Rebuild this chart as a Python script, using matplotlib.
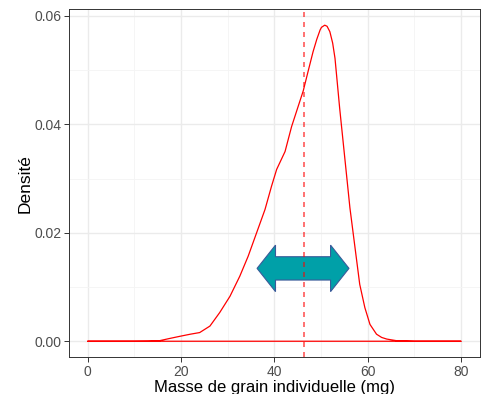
import numpy as np
import matplotlib
matplotlib.use('Agg')
import matplotlib.pyplot as plt
from matplotlib.patches import Polygon

plt.rcParams['font.family'] = ['Liberation Sans', 'DejaVu Sans']

# Density curve (x in mg, y density)
mass = [0, 5, 10, 13, 15.4, 17.5, 19.7, 22, 24.0, 26.2, 28.3, 30.5, 32.6, 34.4,
        36.2, 38.0, 39.4, 40.5, 42.3, 43.7, 45.1, 46.2, 47.3, 48.3, 49.1, 49.8,
        50.1, 50.8, 51.3, 51.9, 52.5, 53.0, 54.0, 55.1, 56.2, 57.3, 58.3, 59.4,
        60.5, 61.9, 63.0, 64.1, 66.2, 70, 75, 80]
density = [0, 0, 0, 0.00002, 0.0001, 0.0005, 0.0009, 0.0013, 0.0016, 0.0028,
           0.0053, 0.0083, 0.0120, 0.0157, 0.0200, 0.0243, 0.0286, 0.0317,
           0.0350, 0.0396, 0.0433, 0.0462, 0.0500, 0.0534, 0.0557, 0.0574,
           0.0579, 0.0583, 0.0581, 0.0571, 0.0550, 0.0522, 0.0430, 0.0338,
           0.0246, 0.0172, 0.0105, 0.0062, 0.0031, 0.0013, 0.0007, 0.0004,
           0.0001, 0, 0, 0]
mean_mass = 46.3

# double arrow annotation (data coords)
arrow_x = (36.3, 56.0)
arrow_head_len = 3.95
arrow_y = 0.01344
arrow_head_half = 0.00429
arrow_shaft_half = 0.00215

xticks = [0, 20, 40, 60, 80]
yticks = [0.00, 0.02, 0.04, 0.06]

fig = plt.figure(figsize=(4.84, 3.94), dpi=100)
ax = fig.add_axes([0.1426, 0.094, 0.8484, 0.882])

ax.fill_between(mass, density, facecolor='none', edgecolor='#FF0000',
                linewidth=0.9, joinstyle='round', zorder=3)

# arrow polygon
x0, x1 = arrow_x
cy = arrow_y
pts = [
    (x0, cy),
    (x0 + arrow_head_len, cy + arrow_head_half),
    (x0 + arrow_head_len, cy + arrow_shaft_half),
    (x1 - arrow_head_len, cy + arrow_shaft_half),
    (x1 - arrow_head_len, cy + arrow_head_half),
    (x1, cy),
    (x1 - arrow_head_len, cy - arrow_head_half),
    (x1 - arrow_head_len, cy - arrow_shaft_half),
    (x0 + arrow_head_len, cy - arrow_shaft_half),
    (x0 + arrow_head_len, cy - arrow_head_half),
]
ax.add_patch(Polygon(pts, closed=True, facecolor='#00A0A8', edgecolor='#3A5A9A',
                     linewidth=0.8, zorder=4))

ax.axvline(mean_mass, color='#FF0000', alpha=0.65, linestyle=(0, (3, 3)),
           linewidth=1.2, zorder=5)

ax.set_xlim(-4, 84)
ax.set_ylim(-0.0029, 0.0612)
ax.set_xticks(xticks)
ax.set_yticks(yticks)
ax.set_xticks([10, 30, 50, 70], minor=True)
ax.set_yticks([0.01, 0.03, 0.05], minor=True)
ax.set_yticklabels([f'{v:.2f}' for v in yticks])

ax.grid(True, which='major', color='#EBEBEB', linewidth=1.0, zorder=0)
ax.grid(True, which='minor', color='#F4F4F4', linewidth=0.6, zorder=0)
ax.set_axisbelow(True)

for s in ax.spines.values():
    s.set_color('#333333')
    s.set_linewidth(0.7)

ax.tick_params(which='major', length=3.5, width=0.7, color='#333333',
               labelsize=10, labelcolor='#4D4D4D', pad=2)
ax.tick_params(which='minor', length=0)

ax.set_xlabel('Masse de grain individuelle (mg)', fontsize=12, color='black', labelpad=1)
ax.set_ylabel('Densité', fontsize=12.5, color='black', labelpad=1)

fig.savefig('out.png', dpi=100)
